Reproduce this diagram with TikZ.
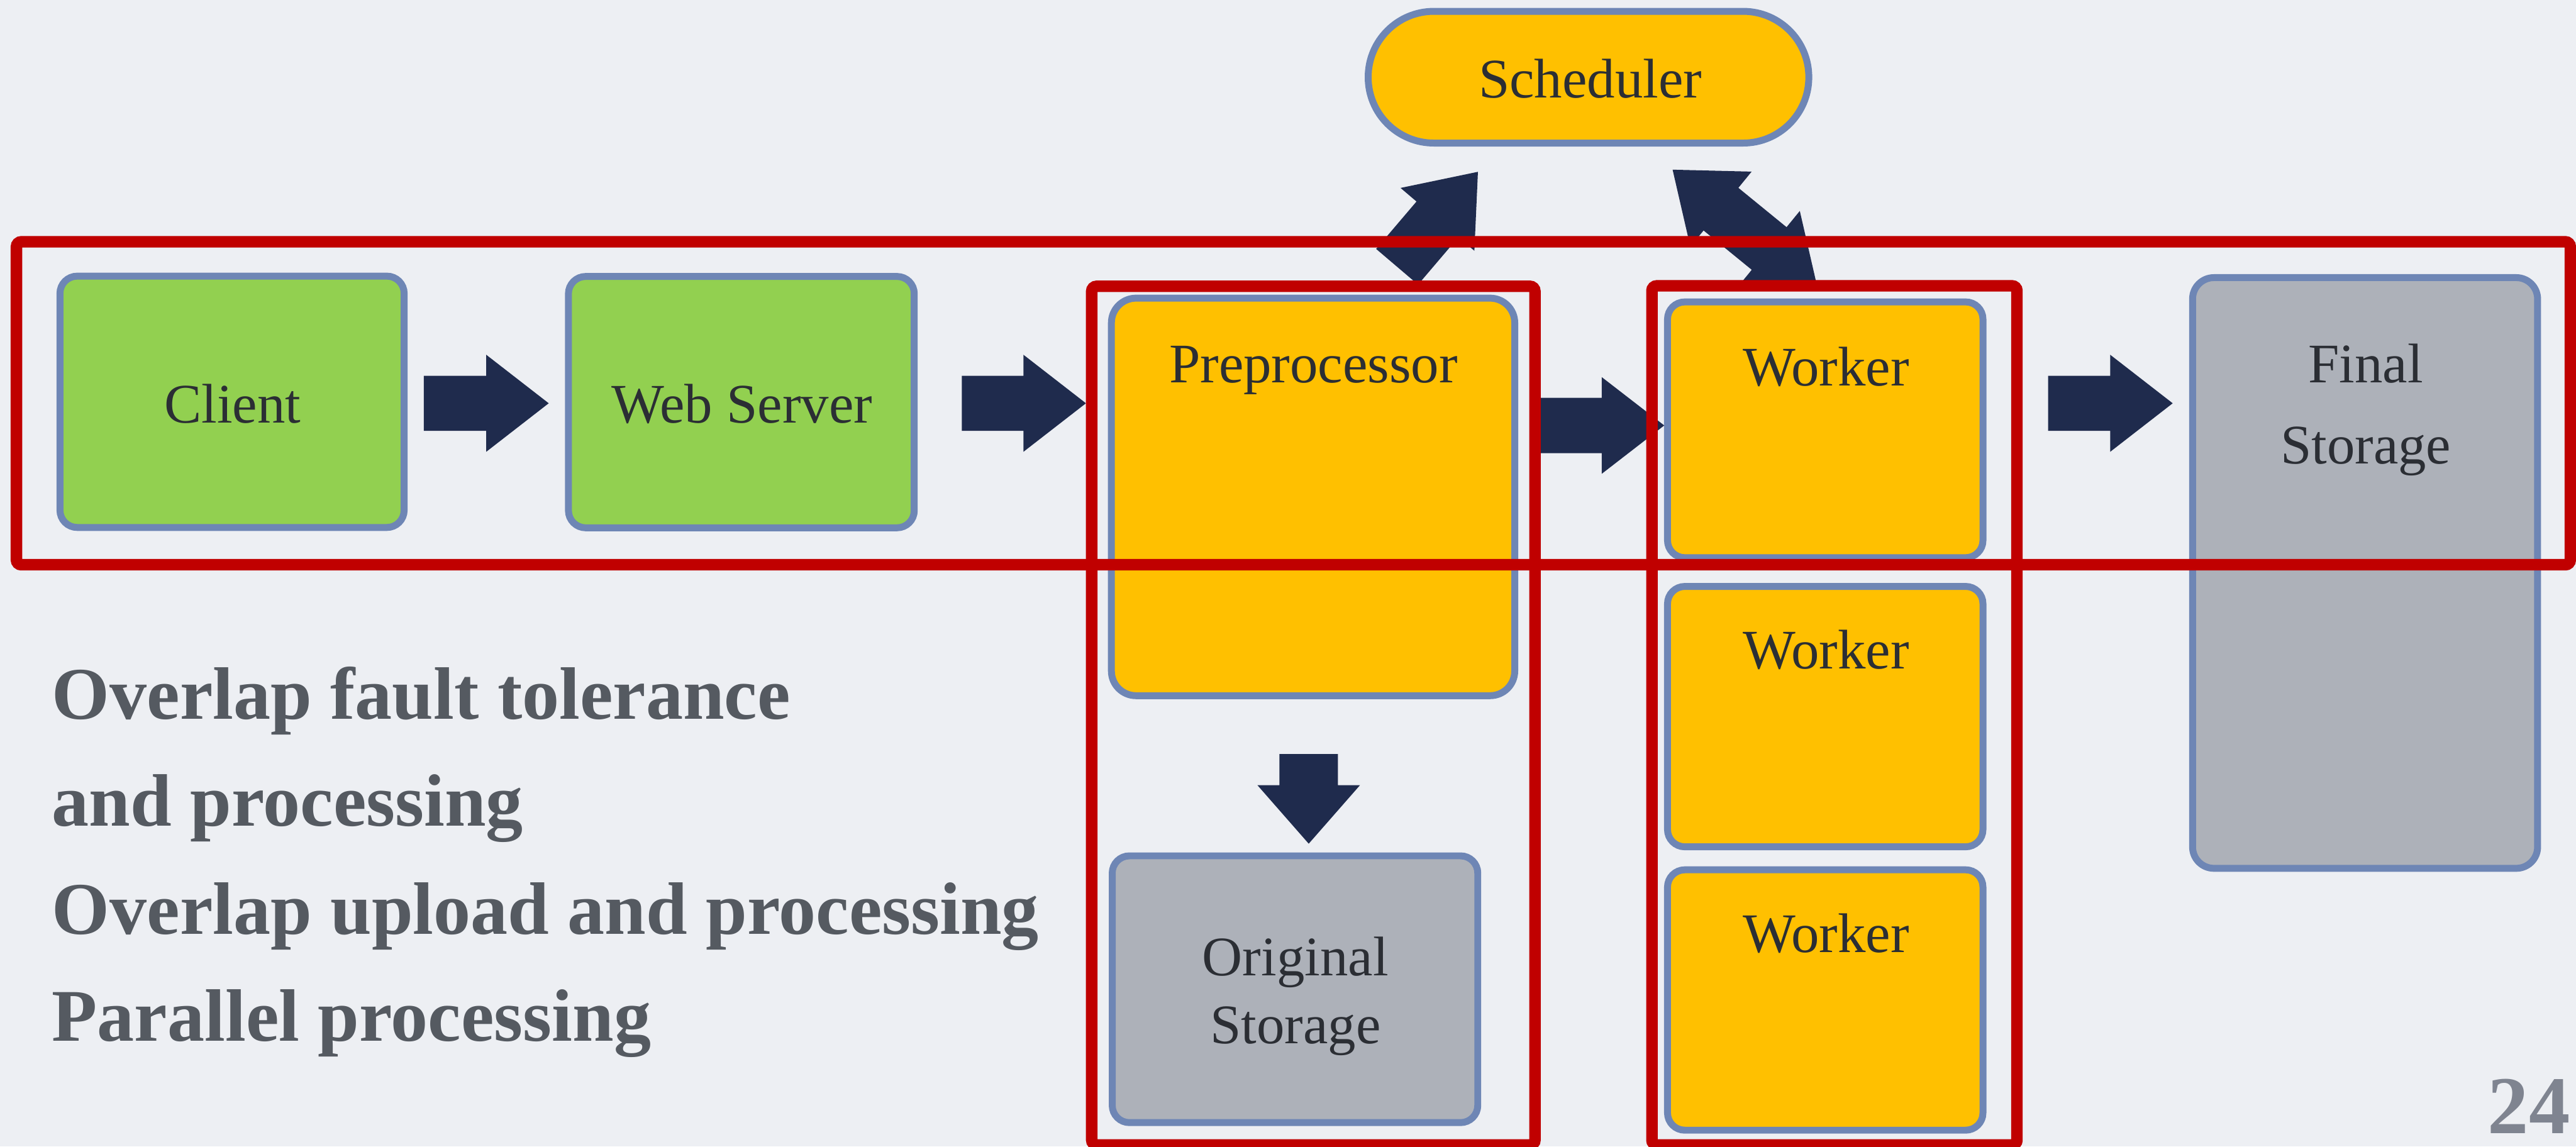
\documentclass[tikz,border=0pt]{standalone}
\usepackage{fontspec}
\setmainfont{Liberation Serif}
\usetikzlibrary{calc}
\definecolor{bgc}{HTML}{EDEFF3}
\definecolor{bordc}{HTML}{6E86B5}
\definecolor{yellowc}{HTML}{FFC000}
\definecolor{greenc}{HTML}{92D050}
\definecolor{grayc}{HTML}{ADB1B9}
\definecolor{navyc}{HTML}{1F2B4D}
\definecolor{redc}{HTML}{C00000}
\definecolor{textc}{HTML}{2B2E34}
\definecolor{notec}{HTML}{555A61}
\definecolor{pagec}{HTML}{7F8490}
\tikzset{
 box/.style={draw=bordc, line width=4.2pt, rounded corners=10.5pt, inner sep=0pt, outer sep=0pt},
 greenbox/.style={box, fill=greenc},
 yellowbox/.style={box, fill=yellowc},
 graybox/.style={box, fill=grayc},
 txt/.style={font=\fontsize{34}{40}\selectfont, text=textc, inner sep=0pt, anchor=base},
 notetxt/.style={font=\fontsize{45.2}{54}\selectfont\bfseries, text=notec, inner sep=0pt, anchor=base west},
 redframe/.style={draw=redc, line width=7pt, rounded corners=3pt},
 arrowfill/.style={fill=navyc},
}
% #1 prefix, #2 tail, #3 tip, #4 body half width, #5 head half width, #6 head length
\newcommand\blockarr[6]{%
  \coordinate (#1h) at ($(#3)!#6!(#2)$);
  \fill[arrowfill] ($(#2)!#4!90:(#3)$) -- ($(#1h)!#4!-90:(#2)$) -- ($(#1h)!#5!-90:(#2)$) -- (#3)
    -- ($(#1h)!#5!90:(#2)$) -- ($(#1h)!#4!90:(#2)$) -- ($(#2)!#4!-90:(#3)$) -- cycle;
}
\begin{document}
\begin{tikzpicture}[x=1pt,y=-1pt]
\useasboundingbox (0,0) rectangle (1568,698);
\fill[bgc] (0,0) rectangle (1568,698);

% boxes
\node[greenbox, minimum width=209.5pt, minimum height=153pt] (client) at (141.25,244.6) {};
\node[greenbox, minimum width=210.5pt, minimum height=153pt] (web) at (451.25,244.8) {};
\node[yellowbox, rounded corners=15pt, minimum width=245.5pt, minimum height=242pt] (pre) at (799.25,302.5) {};
\node[graybox, minimum width=222.5pt, minimum height=162.4pt] (orig) at (788.25,602.2) {};
\node[yellowbox, minimum width=192pt, minimum height=155.7pt] (w1) at (1111,261.65) {};
\node[yellowbox, minimum width=192pt, minimum height=158.5pt] (w2) at (1111,436.25) {};
\node[yellowbox, minimum width=192pt, minimum height=158.5pt] (w3) at (1111,608.75) {};
\node[graybox, rounded corners=13pt, minimum width=210pt, minimum height=359.6pt] (final) at (1439.6,348.8) {};
\node[yellowbox, rounded corners=40pt, minimum width=268.2pt, minimum height=80.2pt] (sched) at (966.9,47) {};

% box texts
\node[txt] (schedT) at (968,59.4) {Scheduler};
\node[txt] (clientT) at (141.5,257.6) {Client};
\node[txt] (webT) at (451.7,257.3) {Web Server};
\node[txt] (preT) at (799.5,233) {Preprocessor};
\node[txt] (w1T) at (1111.5,235) {Worker};
\node[txt] (w2T) at (1111.5,407.3) {Worker};
\node[txt] (w3T) at (1111.5,579.6) {Worker};
\node[txt] (finT1) at (1440,232.8) {Final};
\node[txt] (finT2) at (1440,282.5) {Storage};
\node[txt] (origT1) at (788.5,594) {Original};
\node[txt] (origT2) at (788.5,635.3) {Storage};

% notes
\node[notetxt] (n1) at (31.5,437.8) {Overlap fault tolerance};
\node[notetxt] (n2) at (31.5,502.9) {and processing};
\node[notetxt] (n3) at (31.5,568.5) {Overlap upload and processing};
\node[notetxt] (n4) at (31.5,633.8) {Parallel processing};
\node[font=\fontsize{50}{60}\selectfont\bfseries, text=pagec, inner sep=0pt, anchor=base east] (pg) at (1564.5,690) {24};

% arrows
\coordinate (a1t) at (258,245.5);   \coordinate (a1p) at (334,245.5);
\coordinate (a2t) at (585.5,245.5); \coordinate (a2p) at (661,245.5);
\coordinate (a3t) at (937,259);     \coordinate (a3p) at (1013,259);
\coordinate (a4t) at (1246.7,245.5);\coordinate (a4p) at (1322.5,245.5);
\coordinate (a5t) at (796.6,459);   \coordinate (a5p) at (796.6,513.6);
\coordinate (a6t) at (850.4,162.4); \coordinate (a6p) at (899.6,104.6);
\blockarr{a1}{a1t}{a1p}{16.75pt}{29.5pt}{38pt}
\blockarr{a2}{a2t}{a2p}{16.75pt}{29.5pt}{38pt}
\blockarr{a3}{a3t}{a3p}{16.85pt}{29.4pt}{38pt}
\blockarr{a4}{a4t}{a4p}{16.75pt}{29.5pt}{38pt}
\blockarr{a5}{a5t}{a5p}{17.8pt}{31.2pt}{35.6pt}
\blockarr{a6}{a6t}{a6p}{16.75pt}{29.5pt}{38pt}
% double arrow scheduler <-> worker
\coordinate (dp1) at (1018.1,103.3);
\coordinate (dp2) at (1106.3,175.3);
\coordinate (dh1) at ($(dp1)!38pt!(dp2)$);
\coordinate (dh2) at ($(dp2)!38pt!(dp1)$);
\fill[arrowfill] (dp1) -- ($(dh1)!29.5pt!90:(dp2)$) -- ($(dh1)!16.75pt!90:(dp2)$)
  -- ($(dh2)!16.75pt!-90:(dp1)$) -- ($(dh2)!29.5pt!-90:(dp1)$) -- (dp2)
  -- ($(dh2)!29.5pt!90:(dp1)$) -- ($(dh2)!16.75pt!90:(dp1)$)
  -- ($(dh1)!16.75pt!-90:(dp2)$) -- ($(dh1)!29.5pt!-90:(dp2)$) -- cycle;

% red frames
\draw[redframe] (10,147.2) rectangle (1564.5,343.8);
\draw[redframe] (664.5,174.3) rectangle (934.3,697);
\draw[redframe] (1005.5,174) rectangle (1227.7,697);
\end{tikzpicture}
\end{document}
